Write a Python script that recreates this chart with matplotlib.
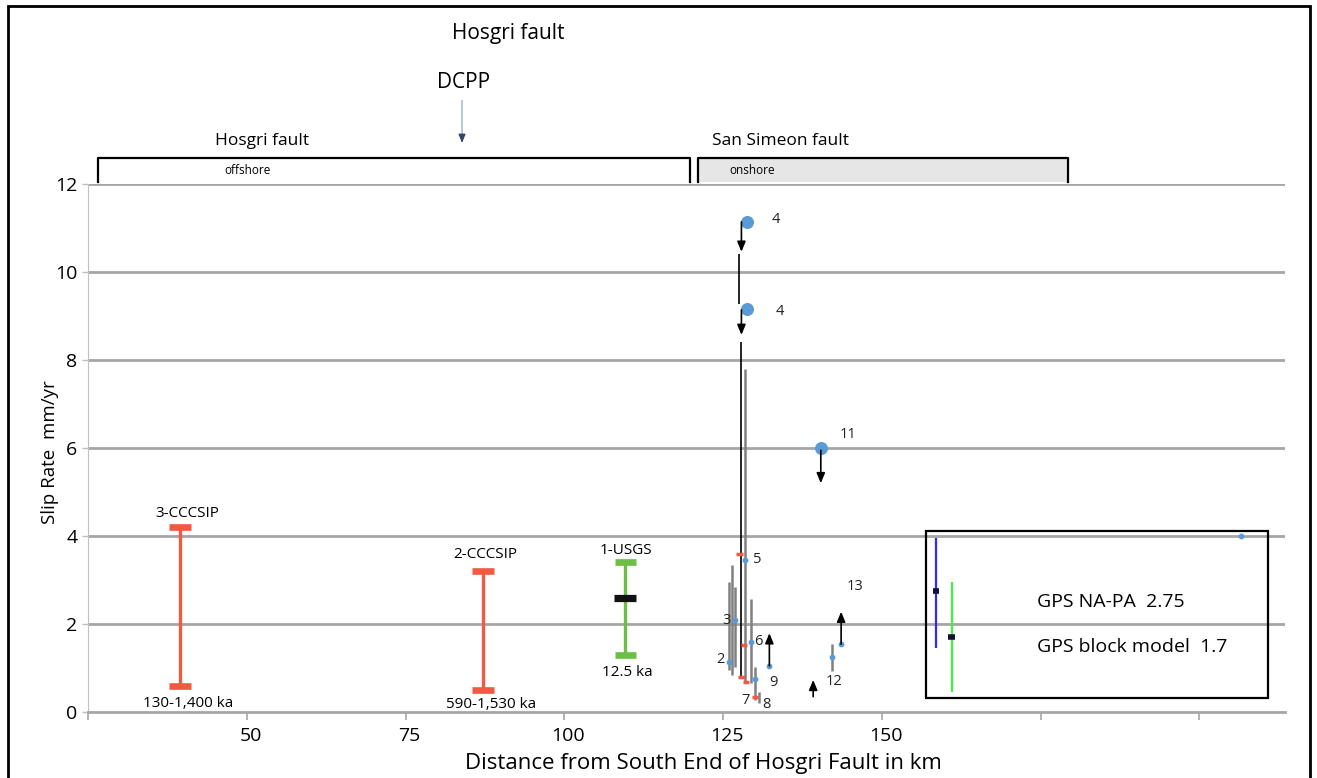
import matplotlib
matplotlib.use("Agg")
import matplotlib.pyplot as plt
from matplotlib.patches import Rectangle
from matplotlib.transforms import ScaledTranslation

plt.rcParams['font.family'] = ['Open Sans', 'DejaVu Sans']

# ---------------- data ----------------
major_names = ["3-CCCSIP", "2-CCCSIP", "1-USGS"]
major_x = [39.5, 87.2, 109.6]
major_lo = [0.6, 0.5, 1.3]
major_hi = [4.2, 3.2, 3.4]
major_age = ["130-1,400 ka", "590-1,530 ka", "12.5 ka"]
usgs_pref = 2.6

range_x = [126.0, 126.35, 126.9, 128.5, 129.4, 130.0, 130.6, 142.2]
range_lo = [0.95, 0.84, 1.03, 0.69, 0.65, 0.27, 0.21, 0.94]
range_hi = [2.96, 3.34, 2.83, 7.8, 2.56, 1.03, 0.46, 1.55]

black_x = [127.8, 127.5]
black_lo = [0.8, 9.28]
black_hi = [8.4, 10.42]

dot_x = [126.0, 126.9, 128.5, 129.4, 130.1, 132.3, 142.2, 143.6, 206.6]
dot_y = [1.14, 2.09, 3.45, 1.6, 0.74, 1.05, 1.24, 1.54, 4.0]
big_dot_x = [128.8, 128.8, 140.4]
big_dot_y = [11.13, 9.17, 6.0]

red_x = [127.6, 127.9, 128.3, 128.6, 130.0]
red_y = [3.6, 0.8, 1.52, 0.69, 0.33]

arrow_x = [127.9, 127.9, 140.4, 132.3, 139.2, 143.6]
arrow_y0 = [11.14, 9.14, 5.95, 1.05, 0.35, 1.54]
arrow_y1 = [10.46, 8.57, 5.2, 1.79, 0.73, 2.28]

site_labels = ["4", "4", "11", "5", "3", "2", "6", "7", "8", "9", "12", "13"]
site_lx = [133.3, 134.0, 144.7, 130.4, 125.6, 124.6, 130.6, 128.6, 131.8, 133.0, 142.5, 145.8]
site_ly = [11.2, 9.1, 6.3, 3.47, 2.09, 1.2, 1.6, 0.26, 0.18, 0.67, 0.69, 2.86]

gps_x = [158.5, 161.0]
gps_lo = [1.45, 0.46]
gps_hi = [3.95, 2.96]
gps_pref = [2.75, 1.7]
gps_colors = ["#2b2bff", "#44ee44"]
gps_text = ["GPS NA-PA  2.75", "GPS block model  1.7"]

xticks = [25, 50, 75, 100, 125, 150, 175, 200]
xticklabels = ["", "50", "75", "100", "125", "150", "", ""]
yticks = [0, 2, 4, 6, 8, 10, 12]

# ---------------- figure ----------------
W, H = 1317, 778
fig = plt.figure(figsize=(W / 100, H / 100), dpi=100)
ax = fig.add_axes([88 / W, 1 - 712 / H, (1285 - 88) / W, (712 - 184) / H])
ax.set_xlim(25, 213.5)
ax.set_ylim(0, 12)

grid_c = "#a6a6a6"
for y in yticks[1:]:
    ax.axhline(y, color=grid_c, lw=2, zorder=0)
for s in ["top", "right"]:
    ax.spines[s].set_visible(False)
ax.spines["left"].set_color("#c0c0c0")
ax.spines["bottom"].set_color(grid_c)
ax.spines["bottom"].set_linewidth(2)
ax.set_xticks(xticks)
ax.set_xticklabels(xticklabels, fontsize=14)
ax.set_yticks(yticks)
ax.set_yticklabels([str(v) for v in yticks], fontsize=14)
ax.tick_params(axis="x", colors=grid_c, labelcolor="black", length=6, width=1.2, pad=5)
ax.tick_params(axis="y", colors="#c0c0c0", labelcolor="black", length=4, width=1)
off = ScaledTranslation(4 / 100, 0, fig.dpi_scale_trans)
for lbl in ax.get_xticklabels():
    lbl.set_transform(lbl.get_transform() + off)

ax.set_xlabel("Distance from South End of Hosgri Fault in km", fontsize=16)
ax.xaxis.set_label_coords((703 - 88) / 1197, -(764 - 712) / 528)
ax.xaxis.label.set_va("center")
ax.set_ylabel("Slip Rate  mm/yr", fontsize=13.5)
ax.yaxis.set_label_coords(-(88 - 50) / 1197, (712 - 452) / 528)
ax.yaxis.label.set_va("center")

red = "#f05a42"
green = "#6cbf45"
# major sites
for i, (x, lo, hi) in enumerate(zip(major_x, major_lo, major_hi)):
    c = green if i == 2 else red
    cw = 3.3 if i == 2 else 3.4
    ax.vlines(x, lo, hi, color=c, lw=2.4, zorder=3)
    ax.hlines([lo, hi], x - cw / 2, x + cw / 2, color=c, lw=4.8, zorder=3)
ax.hlines(usgs_pref, major_x[2] - 1.7, major_x[2] + 1.7, color="#111111", lw=5.2, zorder=4)
name_x = [40.6, 87.5, 109.7]
name_y = [4.52, 3.57, 3.68]
age_x = [40.7, 88.4, 109.9]
age_y = [0.2, 0.18, 0.89]
for i in range(3):
    ax.text(name_x[i], name_y[i], major_names[i], ha="center", va="center", fontsize=11)
    ax.text(age_x[i], age_y[i], major_age[i], ha="center", va="center", fontsize=11)

# small site ranges
ax.vlines(range_x, range_lo, range_hi, color="#808080", lw=1.8, zorder=3)
ax.vlines(black_x, black_lo, black_hi, color="black", lw=1.2, zorder=3)
ax.hlines(red_y, [x - 0.5 for x in red_x], [x + 0.5 for x in red_x], color=red, lw=2.5, zorder=4)
ax.scatter(dot_x, dot_y, s=10, color="#5b9bd5", zorder=5)
ax.scatter(big_dot_x, big_dot_y, s=70, color="#5b9bd5", zorder=5)
for x, y0, y1 in zip(arrow_x, arrow_y0, arrow_y1):
    ax.annotate("", xy=(x, y1), xytext=(x, y0),
                arrowprops=dict(arrowstyle="-|>,head_length=0.6,head_width=0.25",
                                color="black", lw=1.2, shrinkA=0, shrinkB=0), zorder=6)
for t, x, y in zip(site_labels, site_lx, site_ly):
    ax.text(x, y, t, ha="center", va="center", fontsize=10.5, color="#222222")

# GPS box
ax.add_patch(Rectangle((157.0, 0.32), 210.8 - 157.0, 4.11 - 0.32, fill=False,
                       edgecolor="black", lw=1.6, zorder=6))
for x, lo, hi, p, c in zip(gps_x, gps_lo, gps_hi, gps_pref, gps_colors):
    ax.vlines(x, lo, hi, color=c, lw=1.6, zorder=6)
    ax.hlines(p, x - 0.5, x + 0.5, color="#111133", lw=4, zorder=7)
ax.text(174.4, 2.5, gps_text[0], ha="left", va="center", fontsize=14)
ax.text(174.4, 1.48, gps_text[1], ha="left", va="center", fontsize=14)

# header brackets
kw = dict(clip_on=False, zorder=5)
ax.plot([26.6, 26.6, 119.8, 119.8], [12.05, 12.59, 12.59, 12.05], color="black", lw=1.6, **kw)
ax.add_patch(Rectangle((121.0, 12.05), 179.3 - 121.0, 12.59 - 12.05, facecolor="#e6e6e6",
                       edgecolor="none", clip_on=False, zorder=4))
ax.plot([121.0, 121.0, 179.3, 179.3], [12.05, 12.59, 12.59, 12.05], color="black", lw=1.6, **kw)
tkw = dict(ha="center", va="center", clip_on=False, zorder=6)
ax.text(52.4, 12.98, "Hosgri fault", fontsize=12.5, **tkw)
ax.text(50.2, 12.3, "offshore", fontsize=8.5, **tkw)
ax.text(134.1, 12.98, "San Simeon fault", fontsize=12.5, **tkw)
ax.text(129.6, 12.3, "onshore", fontsize=8.5, **tkw)
ax.text(84.2, 14.3, "DCPP", fontsize=15, **tkw)
ax.text(91.2, 15.43, "Hosgri fault", fontsize=15, **tkw)
ax.annotate("", xy=(83.9, 12.93), xytext=(83.9, 13.9), annotation_clip=False,
            arrowprops=dict(arrowstyle="-", color="#8fb4d9", lw=1, shrinkA=0, shrinkB=3))
ax.annotate("", xy=(83.9, 12.93), xytext=(83.9, 13.05), annotation_clip=False,
            arrowprops=dict(arrowstyle="-|>,head_length=0.5,head_width=0.2",
                            color="#334466", lw=1, shrinkA=0, shrinkB=0))

# outer border
fig.patches.append(Rectangle((8 / W, -0.01), (1310 - 8) / W, 1.01 - 6 / H, fill=False,
                             edgecolor="black", lw=2, transform=fig.transFigure))

fig.savefig("out.png", dpi=100)
